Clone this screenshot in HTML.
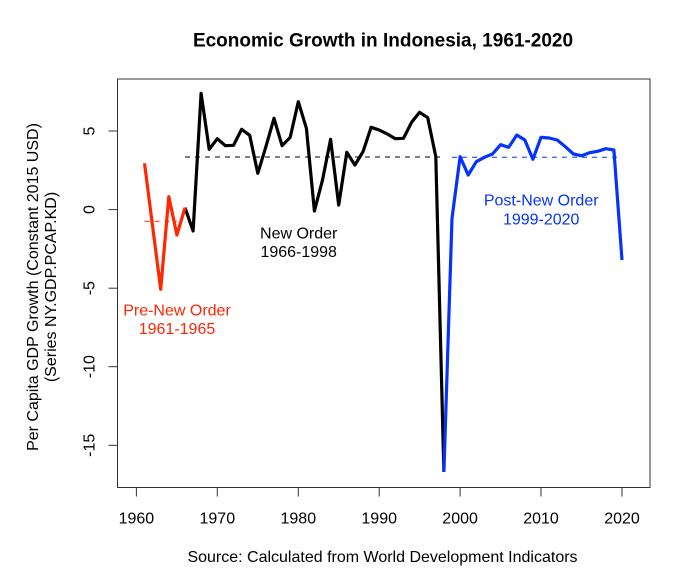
<!DOCTYPE html>
<html><head><meta charset="utf-8"><style>
html,body{margin:0;padding:0;background:#fff;}
svg{display:block;font-family:"Liberation Sans",Arial,sans-serif;}
</style></head><body>
<svg width="690" height="586" viewBox="0 0 690 586" xmlns="http://www.w3.org/2000/svg">
<rect width="690" height="586" fill="#fff"/>
<text x="383" y="46.5" font-size="19" font-weight="bold" text-anchor="middle" fill="#000">Economic Growth in Indonesia, 1961-2020</text>
<rect x="117.5" y="79" width="532.5" height="408.5" fill="none" stroke="#333" stroke-width="1"/>
<g stroke="#333" stroke-width="1">
<line x1="136.4" y1="487.5" x2="136.4" y2="496.5"/>
<line x1="217.3" y1="487.5" x2="217.3" y2="496.5"/>
<line x1="298.3" y1="487.5" x2="298.3" y2="496.5"/>
<line x1="379.2" y1="487.5" x2="379.2" y2="496.5"/>
<line x1="460.1" y1="487.5" x2="460.1" y2="496.5"/>
<line x1="541.0" y1="487.5" x2="541.0" y2="496.5"/>
<line x1="622.0" y1="487.5" x2="622.0" y2="496.5"/>
<line x1="108.5" y1="131" x2="117.5" y2="131"/>
<line x1="108.5" y1="209.6" x2="117.5" y2="209.6"/>
<line x1="108.5" y1="288.2" x2="117.5" y2="288.2"/>
<line x1="108.5" y1="366.7" x2="117.5" y2="366.7"/>
<line x1="108.5" y1="445.3" x2="117.5" y2="445.3"/>
</g>
<g font-size="16" text-anchor="middle" fill="#000">
<text x="136.4" y="523.5">1960</text>
<text x="217.3" y="523.5">1970</text>
<text x="298.3" y="523.5">1980</text>
<text x="379.2" y="523.5">1990</text>
<text x="460.1" y="523.5">2000</text>
<text x="541.0" y="523.5">2010</text>
<text x="622.0" y="523.5">2020</text>
<text transform="translate(94.5,131) rotate(-90)">5</text>
<text transform="translate(94.5,209.6) rotate(-90)">0</text>
<text transform="translate(94.5,288.2) rotate(-90)">-5</text>
<text transform="translate(94.5,366.7) rotate(-90)">-10</text>
<text transform="translate(94.5,445.3) rotate(-90)">-15</text>
<text transform="translate(38,287) rotate(-90)">Per Capita GDP Growth (Constant 2015 USD)</text>
<text transform="translate(56,287) rotate(-90)">(Series NY.GDP.PCAP.KD)</text>
<text x="382.5" y="562">Source: Calculated from World Development Indicators</text>
</g>
<!-- mean dashed lines -->
<line x1="144.5" y1="221.2" x2="176.9" y2="221.2" stroke="#FF2600" stroke-width="1" stroke-dasharray="5,5"/>
<line x1="185.0" y1="157" x2="443.9" y2="157" stroke="#000" stroke-width="1" stroke-dasharray="5,5"/>
<line x1="452.0" y1="157.3" x2="622.0" y2="157.3" stroke="#0433FF" stroke-width="1" stroke-dasharray="5,5"/>
<!-- series -->
<polyline fill="none" stroke="#000" stroke-width="3.2" stroke-linejoin="round" points="185.0,207.7 193.1,231 201.1,93.3 209.2,149.3 217.3,138.7 225.4,145.7 233.5,145.3 241.6,129.3 249.7,135.3 257.8,173.3 265.9,146.7 274.0,118.3 282.1,145.7 290.2,137.3 298.3,101.7 306.4,128.3 314.4,211 322.5,180 330.6,139.3 338.7,205 346.8,152.3 354.9,165 363.0,151.7 371.1,127.3 379.2,130 387.3,134 395.4,138.7 403.5,138.3 411.6,122.3 419.6,112.3 427.7,117.7 435.8,156.7 443.9,472"/>
<polyline fill="none" stroke="#FF2600" stroke-width="3.2" stroke-linejoin="round" points="144.5,163.3 152.6,226.3 160.7,289.3 168.8,196.7 176.9,235 185.0,207.7"/>
<polyline fill="none" stroke="#0433FF" stroke-width="3.2" stroke-linejoin="round" points="443.9,472 452.0,218.3 460.1,156.7 468.2,175 476.3,161.7 484.4,157.3 492.5,154 500.6,144.7 508.7,147.3 516.8,135 524.8,140 532.9,159.3 541.0,137.3 549.1,138 557.2,140 565.3,146.7 573.4,154 581.5,155.7 589.6,152.7 597.7,151.3 605.8,148.7 613.9,150 622.0,260"/>
<!-- annotations -->
<g font-size="16" text-anchor="middle">
<text x="298.7" y="238.3" fill="#000">New Order</text>
<text x="298.7" y="256.8" fill="#000">1966-1998</text>
<text x="177" y="315.7" fill="#FF2600">Pre-New Order</text>
<text x="177" y="334.2" fill="#FF2600">1961-1965</text>
<text x="541.2" y="205.7" fill="#0433FF">Post-New Order</text>
<text x="541.2" y="224.5" fill="#0433FF">1999-2020</text>
</g>
</svg>
</body></html>
